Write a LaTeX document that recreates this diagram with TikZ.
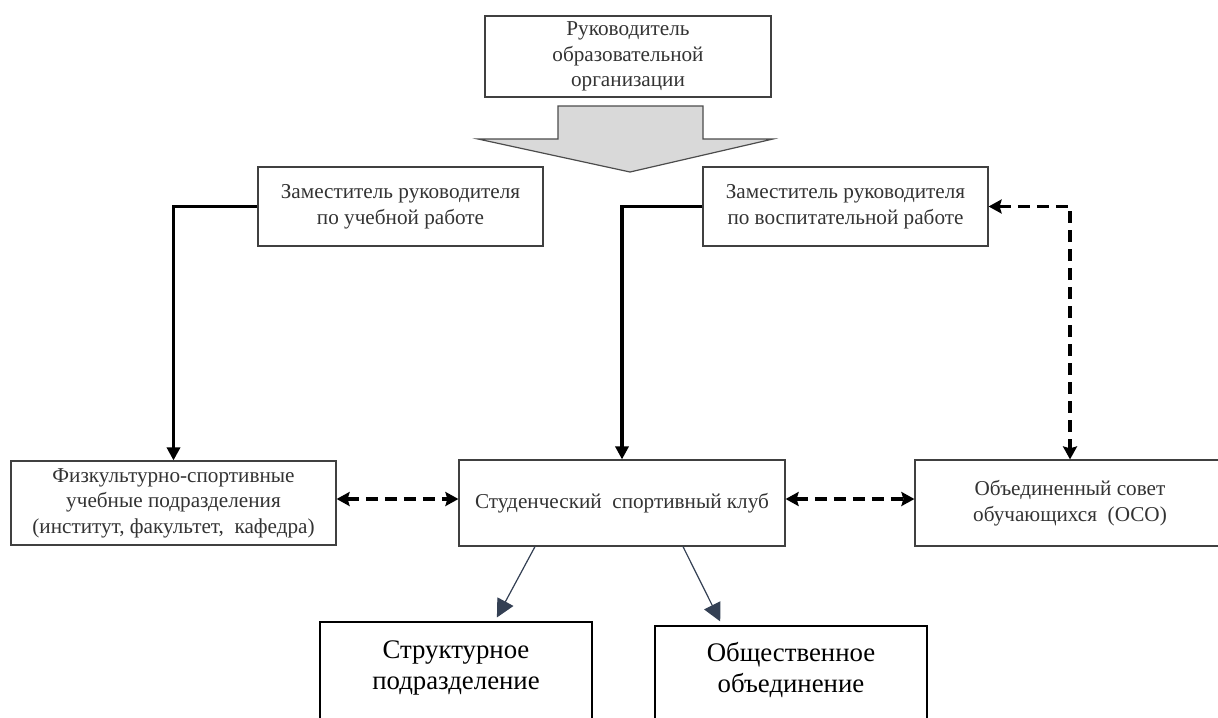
\documentclass[tikz,border=0pt]{standalone}
\usepackage{fontspec}
\setmainfont{Liberation Serif}
\usetikzlibrary{arrows.meta}
\definecolor{arrowgray}{RGB}{217,217,217}
\definecolor{linkblue}{RGB}{52,64,84}

\begin{document}
\begin{tikzpicture}[x=0.5pt,y=-0.5pt,
    box/.style={draw=black!75,line width=0.6pt,align=center,text=black!80,
        font=\fontsize{10.6}{12.8}\selectfont,inner sep=1pt},
    bigbox/.style={draw=black,line width=1.1pt,align=center,anchor=north,
        font=\fontsize{13.4}{15.5}\selectfont,inner sep=0pt,minimum width=136pt},
    main/.style={line width=1.8pt,-{Triangle[length=6.5pt,width=6.5pt]}},
    link/.style={line width=1.7pt,dash pattern=on 6pt off 3.5pt,
        {Stealth[length=6.5pt,width=7pt,inset=1pt]}-{Stealth[length=6.5pt,width=7pt,inset=1pt]}},
    sub/.style={line width=0.6pt,draw=linkblue,fill=linkblue,
        -{Triangle[length=9pt,width=9pt]},shorten >=2pt}]

    \useasboundingbox (0,0) rectangle (1218,717);

    % top of the scheme
    \node[box,minimum width=143pt,minimum height=40.5pt] (ruk) at (628,56.5)
        {Руководитель\\образовательной\\организации};
    \draw[draw=black!70,fill=arrowgray,line width=0.6pt] (558,106) -- (703,106) -- (703,139)
        -- (773,139) -- (630,172) -- (478,139) -- (558,139) -- cycle;

    \node[box,minimum width=142.5pt,minimum height=39.5pt] (zamu) at (400.5,206.5)
        {Заместитель руководителя\\по учебной работе};
    \node[box,minimum width=142.5pt,minimum height=39.5pt] (zamv) at (845.5,206.5)
        {Заместитель руководителя\\по воспитательной работе};

    % middle row
    \node[box,minimum width=162.5pt,minimum height=42pt] (fiz) at (173.5,503)
        {Физкультурно-спортивные\\учебные подразделения\\(институт, факультет,\ \ кафедра)};
    \node[box,minimum width=163pt,minimum height=43pt] (klub) at (622,503)
        {Студенческий\ \ спортивный клуб};
    \node[box,minimum width=155pt,minimum height=43pt] (oso) at (1070,503)
        {Объединенный совет\\обучающихся\ \ (ОСО)};

    % bottom row
    \node[bigbox] (str) at (456,621)
        {\rule{0pt}{18pt}Структурное\\подразделение\rule[-36pt]{0pt}{0pt}};
    \node[bigbox] (obj) at (791,625)
        {\rule{0pt}{17.5pt}Общественное\\объединение\rule[-36pt]{0pt}{0pt}};

    \draw[main] (zamu.west) -| (fiz.north);
    \draw[main] (zamv.west) -| (klub.north);
    \draw[link] (zamv.east) -| (oso.north);
    \draw[link] ([yshift=2pt]fiz.east) -- ([yshift=2pt]klub.west);
    \draw[link] ([yshift=2pt]klub.east) -- ([yshift=2pt]oso.west);

    \draw[sub] ([xshift=-43.5pt]klub.south) -- ([xshift=19.5pt]str.north);
    \draw[sub] ([xshift=30.5pt]klub.south) -- ([xshift=-34.5pt]obj.north);

\end{tikzpicture}
\end{document}
